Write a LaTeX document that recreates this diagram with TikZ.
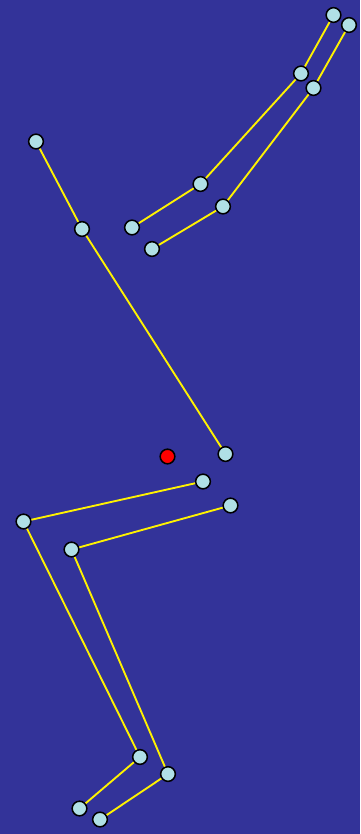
\documentclass[tikz,border=0pt]{standalone}
\usepackage{xcolor}
\usepackage{tikz}
\definecolor{skybg}{RGB}{51,51,153}
\definecolor{jointfill}{RGB}{176,224,230}

\begin{document}
\begin{tikzpicture}[
  x=0.03cm, y=-0.03cm,
  joint/.style={circle, draw=black, line width=1.3pt, fill=jointfill,
                minimum size=0.44cm, inner sep=0pt},
  centre/.style={joint, fill=red},
  bone/.style={yellow, line width=1.6pt}
]
\fill [skybg] (0,0) rectangle (360,834);
\useasboundingbox (0,0) rectangle (360,834);
% upper pair of chains
\node (a1) [joint] at (333.5,15) {};
\node (a2) [joint] at (301,73.5) {};
\node (a3) [joint] at (200.5,184) {};
\node (a4) [joint] at (132,227.5) {};
\node (b1) [joint] at (349,25) {};
\node (b2) [joint] at (313.5,88) {};
\node (b3) [joint] at (223,206.5) {};
\node (b4) [joint] at (152,249) {};
% long diagonal
\node (c1) [joint] at (36,141.5) {};
\node (c2) [joint] at (82,229) {};
\node (c3) [joint] at (225.5,454) {};
\node (mid) [centre] at (167.5,456.5) {};
% lower pair of chains
\node (d1) [joint] at (203,481.5) {};
\node (d2) [joint] at (23.5,521.5) {};
\node (d3) [joint] at (140,757) {};
\node (d4) [joint] at (79.5,808.5) {};
\node (e1) [joint] at (230.5,505.5) {};
\node (e2) [joint] at (71.5,549.5) {};
\node (e3) [joint] at (168,774) {};
\node (e4) [joint] at (100,819.5) {};
\draw [bone] (a1) -- (a2) -- (a3) -- (a4);
\draw [bone] (b1) -- (b2) -- (b3) -- (b4);
\draw [bone] (c1) -- (c2) -- (c3);
\draw [bone] (d1) -- (d2) -- (d3) -- (d4);
\draw [bone] (e1) -- (e2) -- (e3) -- (e4);
\end{tikzpicture}
\end{document}
